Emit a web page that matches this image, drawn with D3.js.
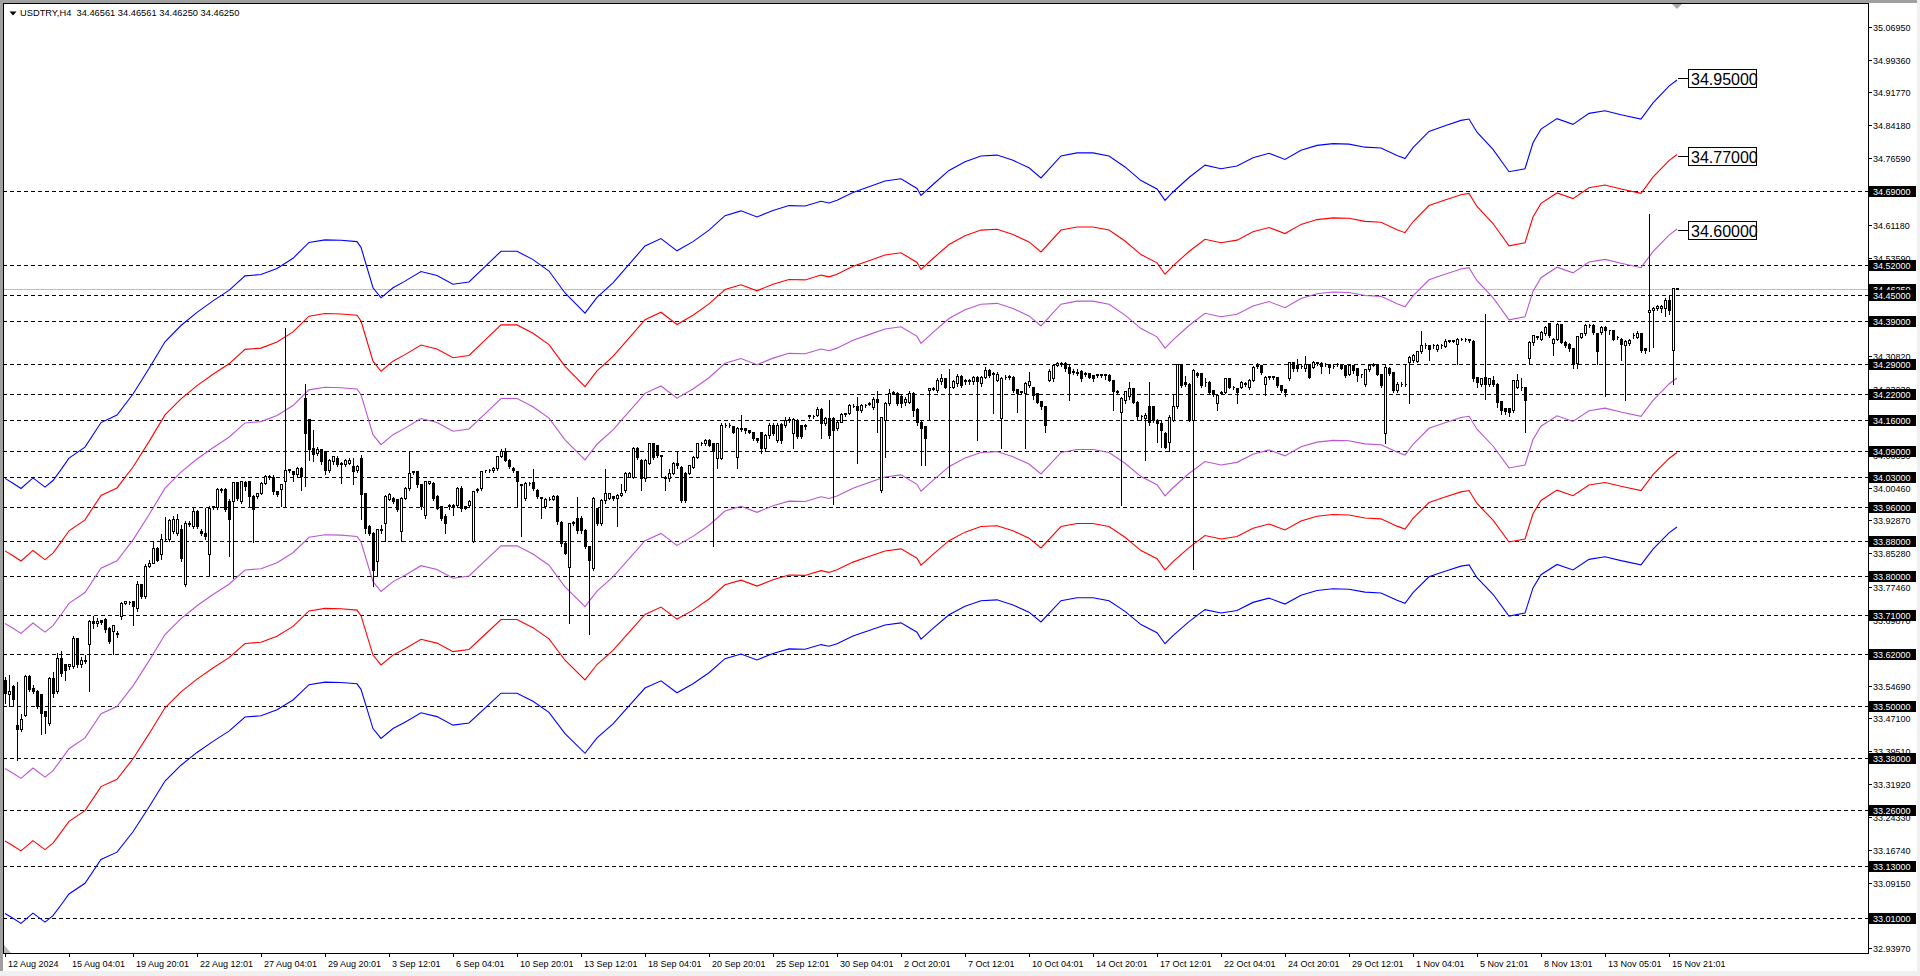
<!DOCTYPE html>
<html><head><meta charset="utf-8">
<script src="https://cdn.jsdelivr.net/npm/d3@7"></script>
<style>
body{margin:0;background:#fff;overflow:hidden}
svg{display:block}
text{font-family:"Liberation Sans",Arial,sans-serif}
</style></head>
<body><svg id="c" width="1920" height="976"></svg>
<script>
// ---------------- DATA ----------------
// H4 candles: [open, high, low, close]
const ohlc = [
[33.561,33.569,33.507,33.530],[33.527,33.573,33.499,33.534],[33.546,33.550,33.503,33.515],[33.457,33.557,33.376,33.446],
[33.446,33.484,33.442,33.469],[33.480,33.573,33.477,33.569],[33.569,33.573,33.534,33.538],[33.542,33.550,33.530,33.534],
[33.534,33.538,33.495,33.499],[33.527,33.530,33.434,33.484],[33.488,33.490,33.438,33.477],[33.461,33.570,33.455,33.565],
[33.565,33.580,33.520,33.530],[33.534,33.625,33.530,33.611],[33.611,33.630,33.570,33.577],[33.596,33.600,33.560,33.584],
[33.592,33.600,33.585,33.596],[33.592,33.665,33.588,33.657],[33.657,33.660,33.590,33.596],[33.596,33.615,33.590,33.607],
[33.607,33.620,33.600,33.604],[33.642,33.700,33.534,33.696],[33.696,33.710,33.680,33.692],[33.692,33.705,33.685,33.697],
[33.698,33.700,33.690,33.694],[33.700,33.705,33.670,33.677],[33.681,33.685,33.645,33.650],[33.673,33.690,33.619,33.688],
[33.669,33.675,33.660,33.667],[33.708,33.742,33.700,33.738],[33.738,33.745,33.735,33.742],[33.741,33.745,33.735,33.740],
[33.742,33.745,33.688,33.731],[33.727,33.790,33.720,33.781],[33.781,33.785,33.750,33.754],[33.754,33.830,33.750,33.823],
[33.823,33.840,33.820,33.831],[33.831,33.880,33.830,33.865],[33.865,33.870,33.835,33.838],[33.850,33.900,33.840,33.886],
[33.886,33.939,33.880,33.885],[33.885,33.935,33.880,33.929],[33.904,33.940,33.900,33.931],[33.900,33.945,33.895,33.931],
[33.909,33.920,33.835,33.842],[33.781,33.930,33.777,33.922],[33.922,33.930,33.915,33.920],[33.915,33.960,33.910,33.950],
[33.950,33.955,33.910,33.915],[33.904,33.910,33.895,33.900],[33.900,33.960,33.885,33.892],[33.850,33.965,33.800,33.958],
[33.960,33.965,33.955,33.962],[33.960,34.005,33.955,34.002],[34.002,34.005,33.995,34.000],[34.002,34.005,33.950,33.954],
[33.973,33.980,33.846,33.931],[33.973,34.020,33.796,34.017],[34.017,34.020,33.975,33.981],[33.973,34.022,33.970,34.019],
[34.017,34.022,34.000,34.008],[34.019,34.020,33.960,33.985],[33.986,33.990,33.878,33.954],[33.985,33.995,33.980,33.992],
[33.992,34.020,33.990,34.016],[34.016,34.035,34.012,34.031],[34.031,34.035,34.025,34.030],[34.029,34.035,33.990,33.996],
[33.996,34.000,33.985,33.989],[34.002,34.015,33.962,34.012],[34.019,34.376,33.962,34.046],[34.046,34.050,34.040,34.048],
[34.042,34.045,34.020,34.037],[34.035,34.055,34.030,34.050],[34.050,34.055,34.000,34.031],[34.212,34.246,34.008,34.131],
[34.162,34.166,34.069,34.093],[34.096,34.139,34.066,34.081],[34.085,34.100,34.080,34.093],[34.093,34.095,34.060,34.066],
[34.089,34.092,34.035,34.046],[34.046,34.072,34.040,34.069],[34.066,34.080,34.060,34.077],[34.073,34.080,34.055,34.058],
[34.062,34.065,34.016,34.060],[34.060,34.072,34.055,34.069],[34.062,34.075,34.060,34.069],[34.054,34.075,34.012,34.042],
[34.046,34.060,34.040,34.054],[34.073,34.081,33.931,33.989],[33.992,33.995,33.900,33.912],[33.915,33.920,33.895,33.900],
[33.900,33.905,33.777,33.815],[33.835,33.910,33.800,33.908],[33.908,33.920,33.900,33.906],[33.923,33.990,33.881,33.985],
[33.977,33.995,33.975,33.989],[33.981,33.985,33.970,33.973],[33.977,33.980,33.950,33.954],[33.904,33.985,33.880,33.981],
[33.981,34.008,33.978,34.004],[34.004,34.089,34.000,34.039],[34.040,34.045,34.035,34.042],[34.042,34.045,34.005,34.012],
[34.012,34.015,33.955,33.962],[33.942,34.022,33.935,34.019],[34.016,34.022,34.012,34.019],[34.016,34.020,33.975,33.981],
[33.985,33.990,33.955,33.958],[33.962,33.965,33.930,33.935],[33.939,33.945,33.900,33.923],[33.965,33.970,33.955,33.963],
[33.962,33.970,33.940,33.965],[33.965,34.008,33.960,34.004],[34.004,34.010,33.950,33.958],[33.962,33.965,33.955,33.958],
[33.965,33.978,33.960,33.973],[33.881,34.000,33.878,33.996],[33.998,34.005,33.995,34.002],[34.004,34.046,34.000,34.042],
[34.044,34.048,34.040,34.045],[34.045,34.050,34.040,34.046],[34.045,34.055,34.040,34.050],[34.050,34.080,34.045,34.077],
[34.077,34.095,34.075,34.089],[34.089,34.098,34.065,34.069],[34.069,34.072,34.050,34.054],[34.050,34.055,34.040,34.046],
[34.042,34.045,33.962,34.019],[34.013,34.015,33.892,34.011],[33.981,34.020,33.975,34.016],[34.016,34.020,34.010,34.015],
[34.017,34.050,34.000,34.004],[34.000,34.003,33.980,33.985],[33.983,33.985,33.935,33.981],[33.962,33.982,33.958,33.979],
[33.979,33.985,33.975,33.978],[33.977,33.990,33.975,33.985],[33.985,33.990,33.920,33.927],[33.926,33.930,33.870,33.876],
[33.876,33.880,33.850,33.853],[33.822,33.925,33.692,33.922],[33.922,33.930,33.918,33.926],[33.934,33.984,33.900,33.907],
[33.934,33.940,33.900,33.907],[33.907,33.910,33.865,33.869],[33.869,33.872,33.666,33.838],[33.818,33.985,33.815,33.980],
[33.957,33.960,33.918,33.922],[33.922,33.980,33.918,33.976],[33.976,34.049,33.970,33.992],[33.980,33.995,33.978,33.992],
[33.984,33.988,33.975,33.980],[33.980,33.992,33.915,33.988],[33.988,34.015,33.985,33.992],[33.999,34.042,33.995,34.038],
[34.030,34.042,34.028,34.038],[34.030,34.100,34.026,34.096],[34.096,34.100,34.070,34.076],[34.069,34.072,33.999,34.026],
[34.026,34.073,34.020,34.069],[34.061,34.110,34.058,34.107],[34.107,34.110,34.070,34.076],[34.103,34.105,34.075,34.080],
[34.080,34.083,34.030,34.078],[34.030,34.033,33.999,34.026],[34.026,34.050,34.020,34.038],[34.038,34.065,34.035,34.061],
[34.061,34.090,34.050,34.057],[34.053,34.057,33.972,33.976],[34.038,34.042,33.972,33.976],[34.038,34.060,34.035,34.057],
[34.053,34.080,34.050,34.076],[34.076,34.110,34.073,34.107],[34.107,34.112,34.103,34.108],[34.107,34.120,34.104,34.115],
[34.115,34.120,34.100,34.103],[34.107,34.110,33.869,34.088],[34.073,34.110,34.050,34.107],[34.073,34.155,34.070,34.150],
[34.150,34.155,34.145,34.148],[34.148,34.155,34.145,34.150],[34.147,34.150,34.130,34.134],[34.076,34.146,34.050,34.142],
[34.142,34.175,34.135,34.140],[34.142,34.145,34.130,34.138],[34.138,34.140,34.130,34.134],[34.132,34.135,34.115,34.119],
[34.119,34.120,34.110,34.115],[34.132,34.135,34.085,34.096],[34.096,34.130,34.090,34.126],[34.126,34.155,34.120,34.150],
[34.150,34.155,34.125,34.130],[34.115,34.155,34.110,34.150],[34.152,34.155,34.107,34.115],[34.150,34.170,34.145,34.161],
[34.160,34.170,34.155,34.163],[34.130,34.168,34.096,34.163],[34.161,34.165,34.120,34.124],[34.150,34.152,34.120,34.124],
[34.150,34.153,34.140,34.146],[34.170,34.175,34.165,34.172],[34.171,34.175,34.165,34.170],[34.173,34.192,34.170,34.187],
[34.187,34.190,34.119,34.153],[34.153,34.170,34.150,34.165],[34.165,34.210,34.120,34.126],[34.165,34.170,33.967,34.138],
[34.142,34.160,34.138,34.157],[34.157,34.180,34.155,34.175],[34.175,34.180,34.170,34.176],[34.177,34.200,34.175,34.196],
[34.194,34.200,34.190,34.193],[34.193,34.215,34.061,34.184],[34.184,34.200,34.180,34.196],[34.196,34.200,34.190,34.195],
[34.198,34.205,34.195,34.200],[34.190,34.215,34.185,34.209],[34.209,34.230,34.134,34.203],[33.999,34.170,33.995,34.167],
[34.161,34.205,34.076,34.200],[34.200,34.235,34.195,34.223],[34.223,34.230,34.220,34.225],[34.224,34.228,34.195,34.200],
[34.215,34.220,34.190,34.200],[34.203,34.215,34.195,34.209],[34.203,34.230,34.200,34.223],[34.223,34.228,34.170,34.184],
[34.186,34.190,34.150,34.157],[34.157,34.160,34.057,34.142],[34.146,34.150,34.057,34.119],[34.230,34.238,34.161,34.234],
[34.234,34.240,34.230,34.233],[34.230,34.260,34.225,34.253],[34.250,34.270,34.245,34.257],[34.257,34.260,34.235,34.238],
[34.238,34.280,34.030,34.236],[34.238,34.255,34.235,34.250],[34.246,34.270,34.240,34.263],[34.263,34.268,34.238,34.242],
[34.250,34.258,34.245,34.253],[34.250,34.258,34.245,34.253],[34.250,34.265,34.245,34.259],[34.259,34.265,34.115,34.250],
[34.246,34.265,34.240,34.259],[34.261,34.285,34.258,34.277],[34.277,34.280,34.260,34.265],[34.269,34.275,34.177,34.268],
[34.253,34.275,34.250,34.267],[34.165,34.262,34.096,34.257],[34.261,34.268,34.255,34.260],[34.260,34.268,34.255,34.262],
[34.261,34.265,34.225,34.230],[34.232,34.235,34.180,34.223],[34.226,34.230,34.220,34.227],[34.223,34.250,34.096,34.246],
[34.242,34.275,34.238,34.250],[34.236,34.240,34.210,34.219],[34.223,34.225,34.200,34.203],[34.205,34.208,34.185,34.192],
[34.193,34.196,34.134,34.150],[34.253,34.280,34.250,34.273],[34.257,34.292,34.250,34.288],[34.288,34.296,34.285,34.292],
[34.292,34.296,34.285,34.291],[34.292,34.298,34.275,34.280],[34.284,34.290,34.207,34.269],[34.273,34.280,34.268,34.272],
[34.271,34.280,34.265,34.270],[34.273,34.278,34.250,34.257],[34.268,34.275,34.262,34.269],[34.269,34.272,34.258,34.261],
[34.265,34.268,34.250,34.257],[34.265,34.270,34.260,34.266],[34.266,34.270,34.260,34.265],[34.265,34.270,34.255,34.266],
[34.265,34.270,34.250,34.253],[34.253,34.256,34.184,34.227],[34.227,34.232,34.220,34.226],[34.180,34.215,33.965,34.211],
[34.207,34.230,34.200,34.227],[34.215,34.250,34.210,34.234],[34.234,34.238,34.200,34.203],[34.203,34.206,34.160,34.169],
[34.170,34.175,34.160,34.169],[34.165,34.180,34.069,34.173],[34.192,34.250,34.150,34.157],[34.192,34.196,34.155,34.161],
[34.161,34.165,34.110,34.153],[34.153,34.160,34.099,34.138],[34.130,34.135,34.095,34.099],[34.111,34.175,34.088,34.168],
[34.161,34.222,34.158,34.192],[34.192,34.293,34.188,34.290],[34.290,34.293,34.238,34.242],[34.249,34.265,34.240,34.245],
[34.245,34.249,34.158,34.161],[34.161,34.280,33.816,34.276],[34.270,34.273,34.260,34.265],[34.270,34.272,34.238,34.242],
[34.249,34.260,34.240,34.248],[34.249,34.252,34.222,34.226],[34.230,34.233,34.215,34.221],[34.199,34.222,34.184,34.219],
[34.224,34.230,34.220,34.226],[34.226,34.260,34.222,34.257],[34.257,34.260,34.234,34.238],[34.238,34.242,34.232,34.237],
[34.234,34.238,34.200,34.226],[34.238,34.252,34.235,34.249],[34.246,34.250,34.240,34.245],[34.238,34.258,34.232,34.253],
[34.253,34.288,34.250,34.284],[34.286,34.295,34.282,34.288],[34.288,34.290,34.268,34.272],[34.245,34.265,34.219,34.261],
[34.261,34.265,34.255,34.262],[34.262,34.265,34.255,34.261],[34.259,34.262,34.238,34.242],[34.242,34.245,34.226,34.230],
[34.232,34.235,34.215,34.226],[34.257,34.298,34.252,34.295],[34.295,34.298,34.275,34.280],[34.288,34.305,34.275,34.280],
[34.285,34.290,34.280,34.286],[34.280,34.310,34.275,34.290],[34.290,34.293,34.258,34.261],[34.284,34.300,34.280,34.295],
[34.293,34.298,34.288,34.294],[34.293,34.296,34.270,34.286],[34.290,34.295,34.285,34.291],[34.290,34.293,34.270,34.284],
[34.286,34.290,34.280,34.285],[34.290,34.295,34.285,34.291],[34.290,34.293,34.278,34.282],[34.288,34.290,34.260,34.265],
[34.268,34.290,34.265,34.288],[34.288,34.290,34.270,34.276],[34.280,34.283,34.250,34.265],[34.268,34.270,34.260,34.267],
[34.245,34.280,34.240,34.278],[34.278,34.292,34.275,34.288],[34.288,34.295,34.285,34.289],[34.290,34.293,34.265,34.268],
[34.268,34.270,34.238,34.242],[34.131,34.290,34.107,34.284],[34.282,34.285,34.265,34.270],[34.272,34.275,34.226,34.230],
[34.230,34.250,34.225,34.245],[34.245,34.250,34.240,34.244],[34.244,34.293,34.240,34.245],[34.295,34.310,34.199,34.307],
[34.299,34.315,34.295,34.311],[34.298,34.322,34.295,34.319],[34.319,34.369,34.315,34.334],[34.334,34.340,34.328,34.333],
[34.333,34.336,34.300,34.324],[34.333,34.338,34.328,34.334],[34.324,34.338,34.320,34.334],[34.334,34.338,34.328,34.333],
[34.332,34.350,34.330,34.344],[34.344,34.348,34.340,34.345],[34.345,34.348,34.340,34.344],[34.336,34.352,34.290,34.349],
[34.348,34.352,34.345,34.349],[34.348,34.352,34.343,34.347],[34.347,34.350,34.340,34.346],[34.344,34.348,34.250,34.257],
[34.259,34.262,34.238,34.249],[34.245,34.260,34.240,34.257],[34.259,34.407,34.210,34.245],[34.245,34.260,34.240,34.257],
[34.253,34.265,34.240,34.245],[34.245,34.248,34.190,34.203],[34.205,34.208,34.175,34.184],[34.188,34.190,34.175,34.182],
[34.188,34.190,34.170,34.180],[34.184,34.255,34.180,34.252],[34.238,34.270,34.235,34.252],[34.238,34.260,34.230,34.237],
[34.238,34.240,34.134,34.207],[34.303,34.345,34.290,34.342],[34.342,34.360,34.335,34.357],[34.355,34.358,34.348,34.353],
[34.349,34.368,34.345,34.365],[34.361,34.380,34.357,34.376],[34.384,34.388,34.353,34.357],[34.338,34.352,34.310,34.349],
[34.349,34.388,34.345,34.382],[34.382,34.385,34.338,34.342],[34.342,34.345,34.330,34.334],[34.336,34.340,34.320,34.326],
[34.326,34.330,34.280,34.292],[34.292,34.358,34.280,34.355],[34.353,34.365,34.350,34.361],[34.361,34.384,34.357,34.380],
[34.380,34.385,34.375,34.381],[34.380,34.384,34.360,34.365],[34.361,34.365,34.290,34.319],[34.365,34.380,34.360,34.376],
[34.376,34.380,34.215,34.369],[34.369,34.372,34.360,34.368],[34.369,34.372,34.345,34.349],[34.353,34.356,34.348,34.352],
[34.349,34.352,34.300,34.336],[34.334,34.348,34.207,34.344],[34.338,34.350,34.334,34.346],[34.357,34.365,34.350,34.358],
[34.353,34.368,34.350,34.362],[34.362,34.365,34.318,34.322],[34.326,34.330,34.315,34.322],[34.410,34.640,34.319,34.415],
[34.415,34.425,34.330,34.419],[34.419,34.428,34.415,34.423],[34.419,34.428,34.410,34.423],[34.419,34.445,34.400,34.439],
[34.438,34.450,34.405,34.415],[34.322,34.469,34.245,34.465],[34.46561,34.46561,34.4625,34.4625]
];

// Envelope centre line (moving average), read at these bar indices
const maIndex = [0,2,4,7,10,12,14,16,20,24,28,32,36,40,44,48,52,56,60,64,68,72,76,80,84,88,89,92,94,97,100,104,108,112,116,120,124,128,132,136,140,145,148,152,156,160,164,168,172,176,180,184,188,192,196,200,204,206,208,212,216,220,224,228,229,232,236,240,244,248,252,256,259,264,268,272,276,280,284,288,290,292,296,300,304,308,312,316,320,324,328,332,336,340,344,348,350,352,356,360,364,366,368,372,376,380,382,384,388,392,396,400,404,409,412,416,418];
const maValue = [33.523,33.512,33.500,33.524,33.503,33.518,33.543,33.569,33.594,33.650,33.667,33.715,33.773,33.834,33.871,33.901,33.927,33.951,33.984,33.987,34.001,34.024,34.060,34.066,34.065,34.062,34.049,33.957,33.934,33.957,33.972,33.994,33.985,33.965,33.970,34.005,34.040,34.040,34.021,33.995,33.945,33.899,33.935,33.968,34.010,34.052,34.069,34.041,34.062,34.088,34.121,34.132,34.118,34.133,34.144,34.143,34.154,34.150,34.156,34.174,34.187,34.200,34.205,34.183,34.167,34.192,34.224,34.244,34.257,34.259,34.247,34.230,34.207,34.257,34.264,34.264,34.257,34.232,34.201,34.182,34.156,34.175,34.208,34.236,34.228,34.234,34.253,34.263,34.249,34.270,34.281,34.285,34.284,34.277,34.275,34.258,34.251,34.276,34.313,34.326,34.338,34.341,34.311,34.272,34.221,34.228,34.287,34.318,34.342,34.329,34.354,34.360,34.351,34.341,34.378,34.416,34.430];

// Envelope deviations (%) and colours
const envDeviation = [1.5, 1.0, 0.5];
const envColor = ["#0000FF", "#FF0000", "#BA55D3"];
const envEndLabels = ["34.95000", "34.77000", "34.60000"];

// Horizontal levels
const levels = [34.69,34.52,34.45,34.39,34.29,34.22,34.16,34.09,34.03,33.96,33.88,33.80,33.71,33.62,33.50,33.38,33.26,33.13,33.01];
const bidPrice = 34.4625;

// Price axis tick labels (those not fully hidden behind level labels)
const priceTicks = ["35.06950","34.99360","34.91770","34.84180","34.76590","34.61180","34.53590","34.38410","34.30820","34.23230","34.15640","34.08050","34.00460","33.92870","33.85280","33.77460","33.69870","33.54690","33.47100","33.39510","33.31920","33.24330","33.16740","33.09150","32.93970"];

// Time axis labels and the bar they belong to
const timeLabels = ["12 Aug 2024","15 Aug 04:01","19 Aug 20:01","22 Aug 12:01","27 Aug 04:01","29 Aug 20:01","3 Sep 12:01","6 Sep 04:01","10 Sep 20:01","13 Sep 12:01","18 Sep 04:01","20 Sep 20:01","25 Sep 12:01","30 Sep 04:01","2 Oct 20:01","7 Oct 12:01","10 Oct 04:01","14 Oct 20:01","17 Oct 12:01","22 Oct 04:01","24 Oct 20:01","29 Oct 12:01","1 Nov 04:01","5 Nov 21:01","8 Nov 13:01","13 Nov 05:01","15 Nov 21:01"];
const timeLabelBars = [0,16,32,48,64,80,96,112,128,144,160,176,192,208,224,240,256,272,288,304,320,336,352,368,384,400,416];

const titleText = "USDTRY,H4  34.46561 34.46561 34.46250 34.46250";

// ---------------- DRAW ----------------
const svg = d3.select("#c");
const L = 3, R = 1868, T = 3, B = 953;
const y = d3.scaleLinear().domain([32.929, 35.122]).range([B, T + 1]);
const x = d3.scaleLinear().domain([0, ohlc.length - 1]).range([5, 1677]);
const py = p => Math.round(y(p)) + 0.5;

svg.append("rect").attr("width", 1920).attr("height", 976).attr("fill", "#fff");
svg.append("rect").attr("x", 0).attr("y", 0).attr("width", 1920).attr("height", 3).attr("fill", "#a0a0a0");
svg.append("rect").attr("x", 0).attr("y", 0).attr("width", 3).attr("height", 976).attr("fill", "#a0a0a0");
svg.append("rect").attr("x", 0).attr("y", 971).attr("width", 1920).attr("height", 5).attr("fill", "#f0f0f0");
svg.append("rect").attr("x", 1917).attr("y", 0).attr("width", 3).attr("height", 976).attr("fill", "#f0f0f0");

svg.append("defs").append("clipPath").attr("id", "plot")
  .append("rect").attr("x", L + 1).attr("y", T + 1).attr("width", R - L - 1).attr("height", B - T - 1);
const g = svg.append("g").attr("clip-path", "url(#plot)");

// levels
g.selectAll("line.lvl").data(levels).join("line").attr("class", "lvl")
  .attr("x1", L).attr("x2", R).attr("y1", d => py(d)).attr("y2", d => py(d))
  .attr("stroke", "#000").attr("stroke-dasharray", "4,3").attr("shape-rendering", "crispEdges");

// bid line
g.append("line").attr("x1", L).attr("x2", R).attr("y1", py(bidPrice)).attr("y2", py(bidPrice))
  .attr("stroke", "#c0c0c0").attr("shape-rendering", "crispEdges");

// envelopes
const maPts = maIndex.map((d, k) => ({i: d, v: maValue[k]}));
envDeviation.forEach((dev, k) => {
  [1, -1].forEach(sign => {
    const line = d3.line().x(d => x(d.i)).y(d => y(d.v * (1 + sign * dev / 100)));
    g.append("path").attr("d", line(maPts)).attr("fill", "none")
      .attr("stroke", envColor[k]).attr("stroke-width", 1.1);
  });
});

// candles
const cg = g.append("g");
cg.selectAll("line.wick").data(ohlc).join("line").attr("class", "wick")
  .attr("x1", (d, i) => Math.round(x(i)) + 0.5).attr("x2", (d, i) => Math.round(x(i)) + 0.5)
  .attr("y1", d => py(Math.max(d[1], d[0], d[3]))).attr("y2", d => py(Math.min(d[2], d[0], d[3])) + 0.5)
  .attr("stroke", "#000").attr("shape-rendering", "crispEdges");
cg.selectAll("path.body").data(ohlc).join("path").attr("class", "body")
  .attr("d", (d, i) => {
    const cx = Math.round(x(i));
    const t = py(Math.max(d[0], d[3])), b = py(Math.min(d[0], d[3]));
    return `M${cx - 0.5},${t}H${cx + 1.5}V${b}H${cx - 0.5}Z`;
  })
  .attr("fill", d => d[3] >= d[0] ? "#fff" : "#000")
  .attr("stroke", "#000").attr("shape-rendering", "crispEdges");

// frame
svg.append("rect").attr("x", L + 0.5).attr("y", T + 0.5).attr("width", R - L).attr("height", B - T)
  .attr("fill", "none").attr("stroke", "#000").attr("shape-rendering", "crispEdges");

// price ticks
const pt = svg.append("g");
priceTicks.forEach(s => {
  const v = +s, yy = py(v);
  pt.append("line").attr("x1", R).attr("x2", R + 4).attr("y1", yy).attr("y2", yy).attr("stroke", "#000").attr("shape-rendering", "crispEdges");
  pt.append("text").attr("x", R + 5).attr("y", yy + 3.2).attr("font-size", 9).attr("fill", "#000").text(s);
});

// bid label then level labels
function boxLabel(v, txt) {
  const yy = Math.round(y(v));
  svg.append("rect").attr("x", R + 1).attr("y", yy - 5).attr("width", 47).attr("height", 11).attr("fill", "#000");
  svg.append("text").attr("x", R + 5).attr("y", yy + 3.5).attr("font-size", 9).attr("fill", "#fff").text(txt);
}
boxLabel(bidPrice, bidPrice.toFixed(5));
levels.forEach(v => boxLabel(v, v.toFixed(5)));

// time axis
timeLabels.forEach((s, k) => {
  const xx = Math.round(x(timeLabelBars[k])) + 0.5;
  svg.append("line").attr("x1", xx).attr("x2", xx).attr("y1", B).attr("y2", B + 4).attr("stroke", "#000").attr("shape-rendering", "crispEdges");
  svg.append("text").attr("x", xx + 2.5).attr("y", 966.5).attr("font-size", 9).attr("fill", "#000").text(s);
});

// envelope end labels
const lastI = ohlc.length - 1;
envEndLabels.forEach((s, k) => {
  const v = +s;
  const ex = x(lastI), yy = Math.round(y(v)) + 0.5;
  svg.append("line").attr("x1", ex + 1).attr("x2", ex + 11).attr("y1", yy).attr("y2", yy).attr("stroke", "#000").attr("shape-rendering", "crispEdges");
  svg.append("rect").attr("x", ex + 11.5).attr("y", yy - 9).attr("width", 68).attr("height", 18)
    .attr("fill", "#fff").attr("stroke", "#000").attr("shape-rendering", "crispEdges");
  svg.append("text").attr("x", ex + 14).attr("y", yy + 6).attr("font-size", 16).attr("fill", "#000").text(s);
});

// title
svg.append("path").attr("d", "M9.5,11.5 L16.5,11.5 L13,15.5 Z").attr("fill", "#000");
svg.append("text").attr("x", 20).attr("y", 15.5).attr("font-size", 9.3).attr("fill", "#000")
  .attr("xml:space", "preserve").style("white-space", "pre").text(titleText);

// markers
svg.append("path").attr("d", "M1672,4 L1682,4 L1677,9 Z").attr("fill", "#a8a8a8");
svg.append("path").attr("d", "M4,945 L4,953 L11,953 Z").attr("fill", "#b8b8b8");
</script></body></html>
